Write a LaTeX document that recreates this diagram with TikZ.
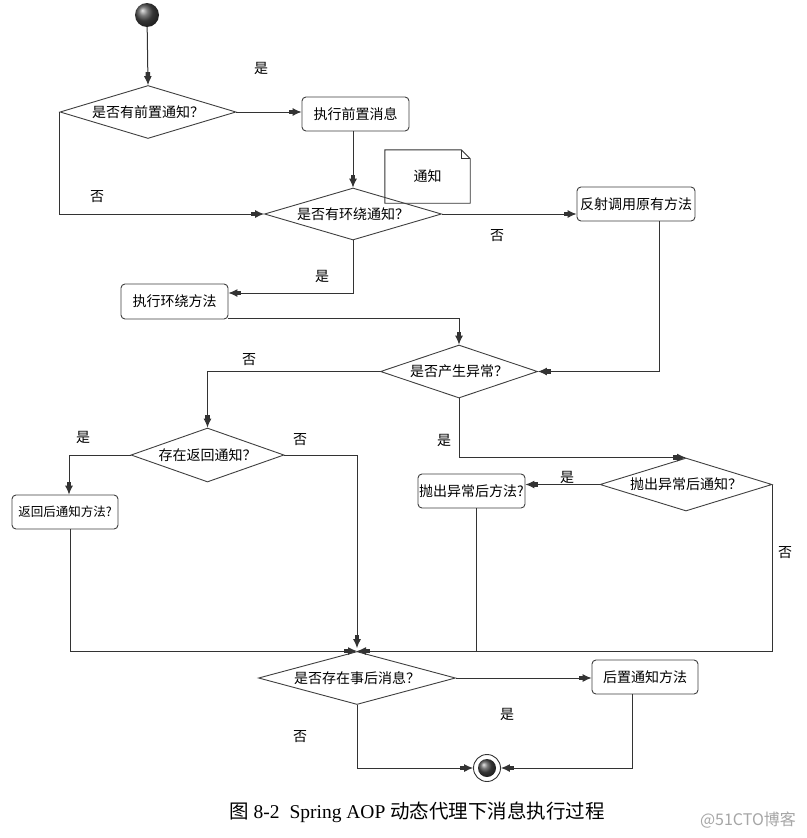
\documentclass[tikz,border=0pt]{standalone}
\usepackage{fontspec}
\setmainfont{Liberation Serif}
\newfontfamily\cjk{Noto Sans CJK SC}
\usetikzlibrary{shapes.geometric,arrows.meta,calc}
\begin{document}
\begin{tikzpicture}[x=1pt,y=-1pt,
  line/.style={draw=black!80, line width=1pt},
  arr/.style={line, -{Rectangle[length=4pt,width=4.5pt]Latex[length=9pt,width=8pt]}},
  dec/.style={diamond, draw=black!75, line width=0.9pt, inner sep=0pt, font=\cjk\fontsize{14}{14}\selectfont},
  box/.style={rectangle, rounded corners=4pt, draw=black!75, line width=0.9pt, inner sep=0pt, font=\cjk\fontsize{14}{14}\selectfont},
  lab/.style={font=\cjk\fontsize{14}{14}\selectfont},
  ball/.style={circle, inner sep=0pt, ball color=black!70}
]
\useasboundingbox (0,0) rectangle (806,838);
\fill[white] (0,0) rectangle (806,838);

% note
\node[minimum width=85pt, minimum height=53pt, inner sep=0pt] (note) at (427.5,176.5) {};
\draw[black!80, line width=0.9pt, fill=white]
  (note.south west) -- (note.north west) -- ([xshift=-9pt]note.north east)
  -- ([yshift=-9pt]note.north east) -- (note.south east) -- cycle;
\draw[black!80, line width=0.8pt] ([xshift=-9pt]note.north east) -- ([xshift=-9pt,yshift=-9pt]note.north east) -- ([yshift=-9pt]note.north east);
\node[font=\cjk\fontsize{14}{14}\selectfont] (notetext) at (note) {通知};

% nodes
\node[ball, minimum size=24pt] (start) at (147,15) {};
\node[dec, aspect=3.32, minimum width=176pt, minimum height=53pt] (d1) at (148,112) {是否有前置通知？};
\node[box, minimum width=107pt, minimum height=34pt] (b1) at (355.5,114) {执行前置消息};
\node[dec, aspect=3.4, minimum width=177pt, minimum height=52pt] (d2) at (353,214) {是否有环绕通知？};
\node[box, minimum width=118pt, minimum height=34pt] (b2) at (636,204) {反射调用原有方法};
\node[box, minimum width=107pt, minimum height=35pt] (b3) at (174.5,301.5) {执行环绕方法};
\node[dec, aspect=2.96, minimum width=157pt, minimum height=53pt] (d3) at (459,371.5) {是否产生异常？};
\node[dec, aspect=2.83, minimum width=153pt, minimum height=54pt] (d4) at (207.5,455) {存在返回通知？};
\node[box, minimum width=106pt, minimum height=34pt, font=\cjk\fontsize{12.5}{12.5}\selectfont] (b4) at (65,512) {返回后通知方法?};
\node[dec, aspect=3.25, minimum width=172pt, minimum height=53pt] (d6) at (686,484.5) {抛出异常后通知？};
\node[box, minimum width=107pt, minimum height=34pt] (b5) at (471.5,491) {抛出异常后方法?};
\node[dec, aspect=3.72, minimum width=197pt, minimum height=53pt] (d5) at (357,678) {是否存在事后消息？};
\node[box, minimum width=106pt, minimum height=34pt] (b6) at (645,677) {后置通知方法};
\node[circle, draw=black!80, line width=0.9pt, minimum size=27pt, inner sep=0pt] (end) at (487,768) {};
\node[ball, minimum size=18pt] (endin) at (end) {};

% connectors
\draw[arr] (start) -- (d1.north);
\draw[arr] (d1.east) -- (d1.east -| b1.west);
\draw[arr] (d2.north |- b1.south) -- (d2.north);
\draw[arr] (d1.west) |- (d2.west);
\draw[arr] (d2.east) -- (d2.east -| b2.west);
\draw[arr] (d2.south) |- ([yshift=8.5pt]b3.east);
\draw[arr] ([yshift=1pt]b3.south east) -| (d3.north);
\draw[arr] ([xshift=23pt]b2.south) |- (d3.east);
\draw[arr] (d3.west) -| (d4.north);
\draw[arr] (d4.west) -| ([xshift=4pt]b4.north);
\draw[arr] (d3.south) |- (d6.north);
\draw[arr] (d6.west) -- (d6.west -| b5.east);
\draw[line] ([xshift=4.5pt]b5.south) |- (d5.north);
\draw[arr] ([xshift=5pt]b4.south) |- (d5.north);
\draw[arr] (d6.east) |- (d5.north);
\draw[arr] (d4.east) -| ([yshift=3pt]d5.north);
\draw[arr] (d5.east) -- (d5.east -| b6.west);
\draw[arr] (d5.south) |- (end.west);
\draw[arr] ([xshift=-13pt]b6.south) |- (end.east);

% labels
\node[lab] (l1) at (261,68) {是};
\node[lab] (l2) at (97,197) {否};
\node[lab] (l3) at (497,236) {否};
\node[lab] (l4) at (322,276) {是};
\node[lab] (l5) at (249,360) {否};
\node[lab] (l6) at (83,437) {是};
\node[lab] (l7) at (300,440) {否};
\node[lab] (l8) at (444,440) {是};
\node[lab] (l9) at (567,477) {是};
\node[lab] (l10) at (785,553) {否};
\node[lab] (l11) at (507,714) {是};
\node[lab] (l12) at (300,737) {否};

% caption
\node[font=\fontsize{19.5}{19.5}\selectfont, inner sep=0pt] (cap) at (417,812)
  {{\cjk 图} 8-2\hspace{10pt}Spring AOP {\cjk 动态代理下消息执行过程}};
\node[font=\cjk\fontsize{16}{16}\selectfont, text=black!35, inner sep=0pt] (wm) at (748,820) {@51CTO博客};
\end{tikzpicture}
\end{document}
